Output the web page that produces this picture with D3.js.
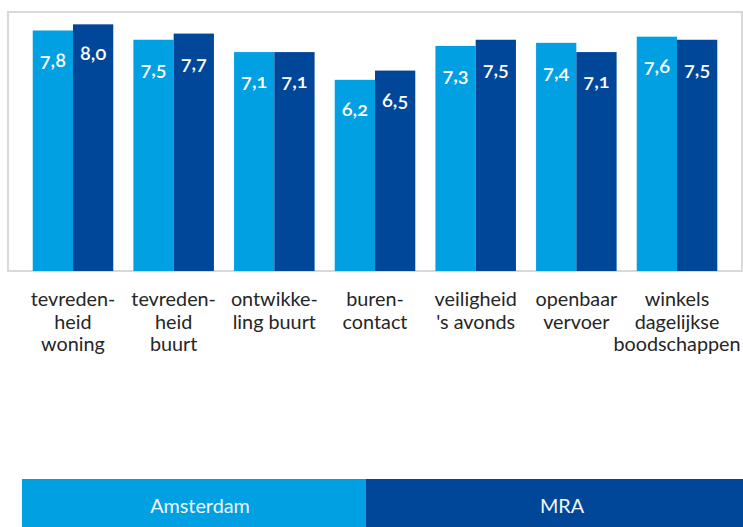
<!DOCTYPE html>
<html>
<head>
<meta charset="utf-8">
<script src="https://cdn.jsdelivr.net/npm/d3@7"></script>
<style>
  html, body { margin: 0; padding: 0; background: #fff; }
  svg { display: block; }
</style>
</head>
<body>
<svg id="chart" width="743" height="527"></svg>
<script>
// Satisfaction scores (rapportcijfers) per theme
const categories = [
  ["tevreden-", "heid", "woning"],
  ["tevreden-", "heid", "buurt"],
  ["ontwikke-", "ling buurt"],
  ["buren-", "contact"],
  ["veiligheid", "'s avonds"],
  ["openbaar", "vervoer"],
  ["winkels", "dagelijkse", "boodschappen"]
];
const seriesNames = ["Amsterdam", "MRA"];
const amsterdam = [7.8, 7.5, 7.1, 6.2, 7.3, 7.4, 7.6];
const mra       = [8.0, 7.7, 7.1, 6.5, 7.5, 7.1, 7.5];
const colors = ["#00A0E3", "#00479A"];

const W = 743, H = 527;
const frame = { left: 8, right: 742, top: 12, bottom: 271 };

const svg = d3.select("#chart");

const keys = categories.map((c, i) => "c" + i);

// x: one band per theme, two sub-bands per band
const step = 100.67;
const cx = (frame.left + frame.right) / 2;
const x0 = d3.scaleBand()
  .domain(keys)
  .range([cx - 3.5 * step, cx + 3.5 * step])
  .paddingInner(0.2)
  .paddingOuter(0.1);
const x1 = d3.scaleBand()
  .domain(seriesNames)
  .range([0, x0.bandwidth()]);

const y = d3.scaleLinear()
  .domain([0, 8.4])
  .range([frame.bottom, frame.top]);

// plot frame
svg.append("rect")
  .attr("x", frame.left)
  .attr("y", frame.top)
  .attr("width", frame.right - frame.left)
  .attr("height", frame.bottom - frame.top)
  .attr("fill", "#fff")
  .attr("stroke", "#d9d9d9")
  .attr("stroke-width", 2);

const rows = keys.map((k, i) => ({ key: k, values: [amsterdam[i], mra[i]] }));

const groups = svg.append("g").selectAll("g")
  .data(rows)
  .join("g")
  .attr("transform", d => `translate(${x0(d.key)},0)`);

const cells = groups.selectAll("g")
  .data(d => d.values.map((v, j) => ({ name: seriesNames[j], value: v, j })))
  .join("g");

cells.append("rect")
  .attr("x", d => x1(d.name))
  .attr("y", d => y(d.value))
  .attr("width", x1.bandwidth())
  .attr("height", d => y(0) - y(d.value))
  .attr("fill", d => colors[d.j]);

// value labels inside bar tops
const fmt = v => d3.format(".1f")(v).replace(".", ",");
cells.append("text")
  .attr("x", d => x1(d.name) + x1.bandwidth() / 2)
  .attr("y", d => y(d.value) + 36)
  .attr("text-anchor", "middle")
  .attr("fill", "#fff")
  .attr("font-family", "Lato, 'Open Sans', sans-serif")
  .attr("font-size", 20)
  .attr("font-weight", 600)
  .style("font-variant-numeric", "oldstyle-nums")
  .text(d => fmt(d.value));

// category labels below the frame
const catG = svg.append("g").selectAll("text")
  .data(rows)
  .join("text")
  .attr("text-anchor", "middle")
  .attr("fill", "#262626")
  .attr("font-family", "Lato, 'Open Sans', sans-serif")
  .attr("font-size", 19.8);

catG.each(function(d, i) {
  const t = d3.select(this);
  categories[i].forEach((line, li) => {
    t.append("tspan")
      .attr("x", x0(d.key) + x0.bandwidth() / 2)
      .attr("y", 306 + li * 22.5)
      .text(line);
  });
});

// legend band along the bottom
const legend = [
  { name: seriesNames[0], x0: 22, x1: 366, tx: 200, color: colors[0] },
  { name: seriesNames[1], x0: 366, x1: 743, tx: 562, color: colors[1] }
];
const lg = svg.append("g").selectAll("g").data(legend).join("g");
lg.append("rect")
  .attr("x", d => d.x0)
  .attr("y", 479)
  .attr("width", d => d.x1 - d.x0)
  .attr("height", H - 479)
  .attr("fill", d => d.color);
lg.append("text")
  .attr("x", d => d.tx)
  .attr("y", 513)
  .attr("text-anchor", "middle")
  .attr("fill", "#f2f7fb")
  .attr("font-family", "Lato, 'Open Sans', sans-serif")
  .attr("font-size", 19.8)
  .text(d => d.name);
</script>
</body>
</html>
